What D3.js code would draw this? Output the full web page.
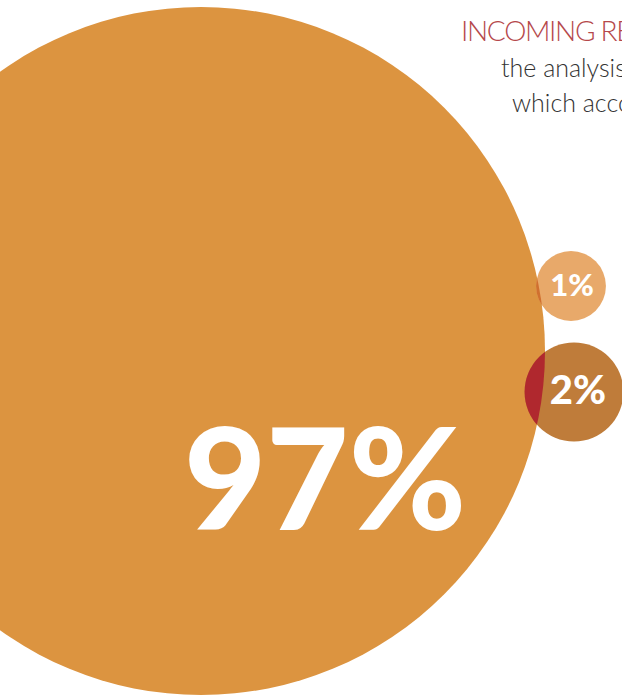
<!DOCTYPE html>
<html>
<head>
<meta charset="utf-8">
<script src="https://cdn.jsdelivr.net/npm/d3@7"></script>
<style>
  html, body { margin: 0; padding: 0; background: #fff; overflow: hidden; }
  svg { display: block; }
</style>
</head>
<body>
<div id="chart"></div>
<script>
// shares of incoming resources, in percent
const categories = ["main", "small", "medium"]
const values = [97, 1, 2]
const labels = ["97%", "1%", "2%"]

const titleLines = ["INCOMING RESOURCES", "the analysis shows", "which accounts for"]

const width = 622
const height = 698

// circle centres (layout only)
const centers = [[201, 351], [571, 286], [574, 392]]
const fills = ["#dc9440", "#e8a96a", "#bf7c3a"]
const overlapFills = [null, "#d0702f", "#b0282e"]
const labelSizes = [142, 31, 40]
// label position relative to circle centre: [dx, baseline dy]
const labelOffsets = [[124, 179], [1, 10], [4, 12]]

const svg = d3.select("#chart")
    .append("svg")
    .attr("width", width)
    .attr("height", height)
    .attr("viewBox", [0, 0, width, height])

// area proportional to the value
const r = d3.scaleSqrt()
    .domain([0, d3.max(values)])
    .range([0, 344])

const data = categories.map((c, i) => ({
    name: c, value: values[i], label: labels[i],
    cx: centers[i][0], cy: centers[i][1], fill: fills[i]
}))

const defs = svg.append("defs")
defs.append("clipPath")
    .attr("id", "bigClip")
    .append("circle")
    .attr("cx", data[0].cx)
    .attr("cy", data[0].cy)
    .attr("r", r(data[0].value))

svg.append("g")
    .selectAll("circle")
    .data(data)
    .join("circle")
    .attr("cx", d => d.cx)
    .attr("cy", d => d.cy)
    .attr("r", d => r(d.value))
    .attr("fill", d => d.fill)

// overlap of the small circles with the big one
svg.append("g")
    .attr("clip-path", "url(#bigClip)")
    .selectAll("circle")
    .data(data.slice(1))
    .join("circle")
    .attr("cx", d => d.cx)
    .attr("cy", d => d.cy)
    .attr("r", d => r(d.value))
    .attr("fill", (d, i) => overlapFills[i + 1])

svg.append("g")
    .selectAll("text")
    .data(data)
    .join("text")
    .attr("x", (d, i) => d.cx + labelOffsets[i][0])
    .attr("y", (d, i) => d.cy + labelOffsets[i][1])
    .attr("text-anchor", "middle")
    .attr("font-family", "Lato, 'Open Sans', sans-serif")
    .attr("font-weight", 900)
    .attr("font-size", (d, i) => labelSizes[i])
    .attr("fill", "#fff")
    .text(d => d.label)

// header text, runs off the right edge like the original
const head = svg.append("g")
    .attr("font-family", "Lato, 'Open Sans', sans-serif")
    .attr("font-weight", 300)

head.append("text")
    .attr("x", 461)
    .attr("y", 41)
    .attr("font-size", 28)
    .attr("fill", "#b5484b")
    .attr("letter-spacing", -1.3)
    .text(titleLines[0])

head.append("text")
    .attr("x", 501)
    .attr("y", 77)
    .attr("font-size", 25)
    .attr("fill", "#333")
    .text(titleLines[1])

head.append("text")
    .attr("x", 512)
    .attr("y", 112)
    .attr("font-size", 25)
    .attr("fill", "#333")
    .text(titleLines[2])
</script>
</body>
</html>
